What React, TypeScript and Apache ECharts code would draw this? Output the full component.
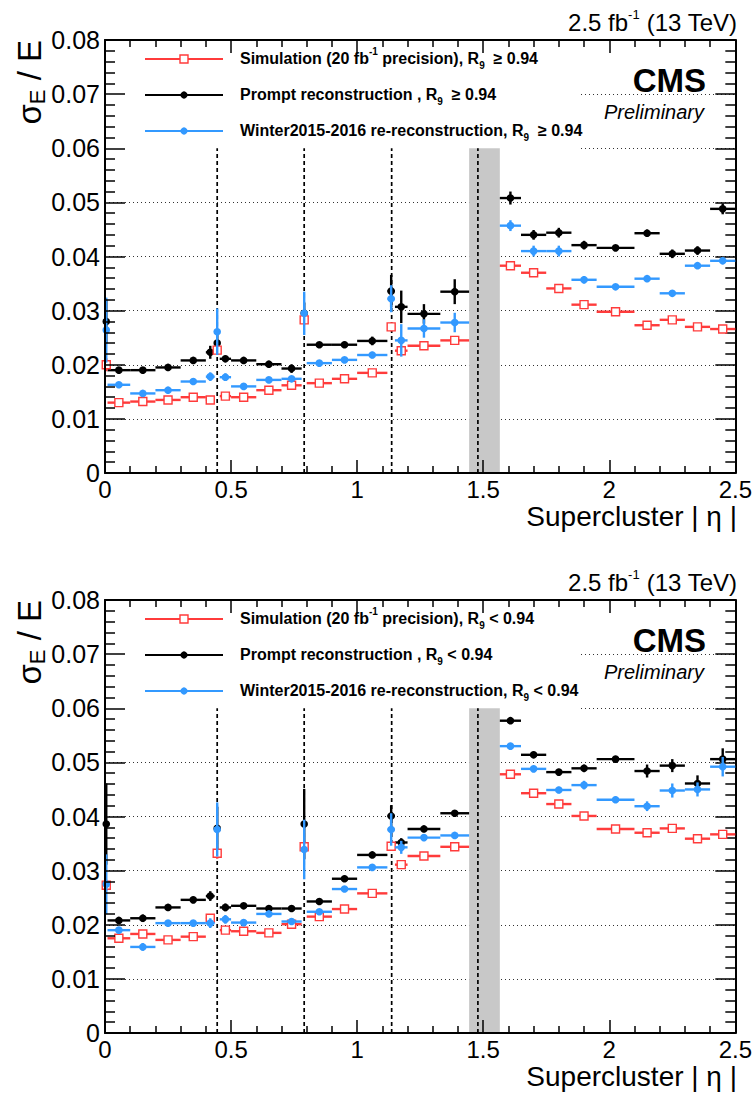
import React, { useEffect, useRef } from 'react';
import * as echarts from 'echarts';

// ---------------- data ----------------
// |eta| bins (barrel 0..1.4442, endcap 1.566..2.5)
const binLow = [0, 0.01, 0.1, 0.2, 0.3, 0.4, 0.435, 0.455, 0.5, 0.6, 0.7, 0.78, 0.8, 0.9, 1.0, 1.12, 1.15, 1.2, 1.33,
  1.566, 1.65, 1.75, 1.85, 1.95, 2.1, 2.2, 2.3, 2.4];
const binHigh = [0.01, 0.1, 0.2, 0.3, 0.4, 0.435, 0.455, 0.5, 0.6, 0.7, 0.78, 0.8, 0.9, 1.0, 1.12, 1.15, 1.2, 1.33, 1.4442,
  1.65, 1.75, 1.85, 1.95, 2.1, 2.2, 2.3, 2.4, 2.5];

// Top panel: R9 >= 0.94
const simHighR9 = [0.0200, 0.0130, 0.0132, 0.0135, 0.0140, 0.0135, 0.0227, 0.0142, 0.0140, 0.0153, 0.0162, 0.0283, 0.0166, 0.0174, 0.0185, 0.0270, 0.0226, 0.0235, 0.0245,
  0.0383, 0.0370, 0.0341, 0.0311, 0.0298, 0.0273, 0.0283, 0.0270, 0.0266];
const simHighR9Err = [0.0012, 0.0003, 0.0003, 0.0003, 0.0003, 0.0004, 0.0008, 0.0004, 0.0003, 0.0003, 0.0003, 0.0008, 0.0003, 0.0003, 0.0003, 0.0008, 0.0006, 0.0004, 0.0004,
  0.0004, 0.0003, 0.0003, 0.0003, 0.0003, 0.0003, 0.0003, 0.0003, 0.0003];
const promptHighR9 = [0.0280, 0.0190, 0.0190, 0.0195, 0.0208, 0.0223, 0.0240, 0.0211, 0.0208, 0.0201, 0.0193, 0.0295, 0.0237, 0.0237, 0.0244, 0.0336, 0.0307, 0.0294, 0.0335,
  0.0508, 0.0440, 0.0444, 0.0421, 0.0416, 0.0443, 0.0405, 0.0411, 0.0488];
const promptHighR9Err = [0.0040, 0.0004, 0.0004, 0.0005, 0.0005, 0.0012, 0.0015, 0.0006, 0.0005, 0.0005, 0.0008, 0.0020, 0.0005, 0.0006, 0.0008, 0.0030, 0.0030, 0.0018, 0.0023,
  0.0012, 0.0009, 0.0009, 0.0008, 0.0005, 0.0007, 0.0008, 0.0008, 0.0010];
const winterHighR9 = [0.0264, 0.0163, 0.0147, 0.0153, 0.0169, 0.0178, 0.0261, 0.0177, 0.0160, 0.0172, 0.0174, 0.0295, 0.0203, 0.0209, 0.0218, 0.0322, 0.0245, 0.0267, 0.0278,
  0.0457, 0.0410, 0.0410, 0.0357, 0.0344, 0.0359, 0.0332, 0.0383, 0.0392];
const winterHighR9Err = [0.0060, 0.0004, 0.0004, 0.0004, 0.0006, 0.0008, 0.0043, 0.0007, 0.0005, 0.0005, 0.0005, 0.0040, 0.0005, 0.0005, 0.0006, 0.0025, 0.0030, 0.0017, 0.0018,
  0.0010, 0.0010, 0.0010, 0.0007, 0.0004, 0.0006, 0.0005, 0.0006, 0.0006];

// Bottom panel: R9 < 0.94
const simLowR9 = [0.0273, 0.0175, 0.0183, 0.0172, 0.0178, 0.0212, 0.0332, 0.0190, 0.0188, 0.0185, 0.0201, 0.0344, 0.0215, 0.0229, 0.0258, 0.0345, 0.0311, 0.0327, 0.0344,
  0.0478, 0.0443, 0.0423, 0.0401, 0.0377, 0.0370, 0.0378, 0.0359, 0.0367];
const simLowR9Err = [0.0010, 0.0003, 0.0003, 0.0003, 0.0003, 0.0004, 0.0010, 0.0003, 0.0003, 0.0003, 0.0003, 0.0010, 0.0003, 0.0003, 0.0003, 0.0008, 0.0004, 0.0003, 0.0003,
  0.0003, 0.0003, 0.0003, 0.0003, 0.0003, 0.0003, 0.0003, 0.0005, 0.0005];
const promptLowR9 = [0.0386, 0.0208, 0.0212, 0.0232, 0.0246, 0.0253, 0.0378, 0.0232, 0.0235, 0.0230, 0.0230, 0.0386, 0.0243, 0.0285, 0.0329, 0.0401, 0.0352, 0.0377, 0.0406,
  0.0577, 0.0514, 0.0482, 0.0489, 0.0506, 0.0484, 0.0494, 0.0461, 0.0506];
const promptLowR9Err = [0.0075, 0.0006, 0.0007, 0.0006, 0.0006, 0.0009, 0.0040, 0.0007, 0.0005, 0.0004, 0.0005, 0.0065, 0.0004, 0.0006, 0.0005, 0.0020, 0.0008, 0.0004, 0.0004,
  0.0006, 0.0006, 0.0006, 0.0007, 0.0006, 0.0012, 0.0012, 0.0015, 0.0020];
const winterLowR9 = [0.0275, 0.0190, 0.0159, 0.0203, 0.0203, 0.0203, 0.0376, 0.0210, 0.0204, 0.0220, 0.0206, 0.0339, 0.0224, 0.0266, 0.0306, 0.0376, 0.0343, 0.0361, 0.0365,
  0.0530, 0.0488, 0.0449, 0.0458, 0.0431, 0.0419, 0.0448, 0.0450, 0.0492];
const winterLowR9Err = [0.0055, 0.0006, 0.0007, 0.0005, 0.0005, 0.0009, 0.0050, 0.0008, 0.0005, 0.0005, 0.0006, 0.0055, 0.0005, 0.0005, 0.0005, 0.0030, 0.0012, 0.0006, 0.0006,
  0.0006, 0.0006, 0.0006, 0.0008, 0.0006, 0.0009, 0.0013, 0.0013, 0.0018];

// Module boundaries / EB-EE gap
const crackEta = [0.445, 0.79, 1.137, 1.479];
const gapRange = [1.4442, 1.566];
const guideTop = 0.06;

const xTicks = [0, 0.5, 1, 1.5, 2, 2.5];
const yTickValues = [0, 0.01, 0.02, 0.03, 0.04, 0.05, 0.06, 0.07, 0.08];

const panelLabels = [
  { cut: '  \u2265 0.94' },
  { cut: ' < 0.94' },
];

// ---------------- style ----------------
const FONT = '"Liberation Sans", Arial, Helvetica, sans-serif';
const RED = '#ff3b3b';
const BLACK = '#000000';
const BLUE = '#3399ff';

const GRID_LEFT = 105;
const GRID_W = 631;
const GRID_H = 433;
const GRID_TOPS = [40, 600];

function errSeries(gridIdx: number, values: number[], errors: number[], color: string, marker: string) {
  const data = values.map((v, i) => [binLow[i], binHigh[i], v, errors[i]]);
  return {
    type: 'custom',
    xAxisIndex: gridIdx * 2,
    yAxisIndex: gridIdx * 2,
    z: 3,
    encode: { x: [0, 1], y: 2 },
    data,
    renderItem: (_p: any, api: any) => {
      const x0 = api.value(0);
      const x1 = api.value(1);
      const y = api.value(2);
      const e = api.value(3);
      const xc = (x0 + x1) / 2;
      const pl = api.coord([x0, y]);
      const pr = api.coord([x1, y]);
      const pc = api.coord([xc, y]);
      const pt = api.coord([xc, y + e]);
      const pb = api.coord([xc, y - e]);
      const children: any[] = [
        { type: 'line', shape: { x1: pl[0], y1: pl[1], x2: pr[0], y2: pr[1] }, style: { stroke: color, lineWidth: 2.4 } },
        { type: 'line', shape: { x1: pt[0], y1: pt[1], x2: pb[0], y2: pb[1] }, style: { stroke: color, lineWidth: 2.4 } },
      ];
      if (marker === 'square') {
        children.push({ type: 'rect', shape: { x: pc[0] - 4, y: pc[1] - 4, width: 8, height: 8 }, style: { fill: '#fff', stroke: color, lineWidth: 1.4 } });
      } else {
        children.push({ type: 'circle', shape: { cx: pc[0], cy: pc[1], r: 3.8 }, style: { fill: color } });
      }
      return { type: 'group', children };
    },
  };
}

function bandSeries(gridIdx: number) {
  return {
    type: 'custom',
    xAxisIndex: gridIdx * 2,
    yAxisIndex: gridIdx * 2,
    z: 2,
    data: [[gapRange[0], gapRange[1], guideTop]],
    renderItem: (_p: any, api: any) => {
      const a = api.coord([api.value(0), 0]);
      const b = api.coord([api.value(1), api.value(2)]);
      return { type: 'rect', shape: { x: a[0], y: b[1], width: b[0] - a[0], height: a[1] - b[1] }, style: { fill: '#c8c8c8' } };
    },
  };
}

function crackSeries(gridIdx: number) {
  return {
    type: 'custom',
    xAxisIndex: gridIdx * 2,
    yAxisIndex: gridIdx * 2,
    z: 2,
    data: crackEta.map((e) => [e, guideTop]),
    renderItem: (_p: any, api: any) => {
      const a = api.coord([api.value(0), 0]);
      const b = api.coord([api.value(0), api.value(1)]);
      return { type: 'line', shape: { x1: a[0], y1: a[1], x2: b[0], y2: b[1] }, style: { stroke: '#000', lineWidth: 1.7, lineDash: [4, 3] } };
    },
  };
}

function xAxes(gridIdx: number) {
  const base = {
    type: 'value', gridIndex: gridIdx, min: xTicks[0], max: xTicks[xTicks.length - 1], interval: 0.5,
    splitLine: { show: false }, z: 5,
    axisLine: { show: true, onZero: false, lineStyle: { color: '#000', width: 2 } },
    axisTick: { show: true, inside: true, length: 13, lineStyle: { color: '#000', width: 1.5 } },
    minorTick: { show: true, splitNumber: 5, length: 7, lineStyle: { color: '#000', width: 1.5 } },
  };
  return [
    {
      ...base, position: 'bottom',
      axisLabel: { show: true, margin: 4, fontSize: 24, lineHeight: 24, fontFamily: FONT, color: '#000', formatter: (v: number) => String(v) },
    },
    { ...base, position: 'top', axisLabel: { show: false } },
  ];
}

function yAxes(gridIdx: number) {
  const base = {
    type: 'value', gridIndex: gridIdx, min: yTickValues[0], max: yTickValues[yTickValues.length - 1], interval: 0.01,
    axisLine: { show: true, onZero: false, lineStyle: { color: '#000', width: 2 } },
    axisTick: { show: true, inside: true, length: 20, lineStyle: { color: '#000', width: 1.5 } },
    minorTick: { show: true, splitNumber: 5, length: 10, lineStyle: { color: '#000', width: 1.5 } },
  };
  return [
    {
      ...base, position: 'left', z: 5, splitLine: { show: false },
      axisLabel: {
        show: true, margin: 5, fontSize: 25, fontFamily: FONT, color: '#000',
        formatter: (v: number) => (Math.abs(v) < 1e-9 ? '0' : v.toFixed(2)),
      },
    },
    {
      ...base, position: 'right', z: 0, axisLabel: { show: false },
      splitLine: { show: true, lineStyle: { color: '#333', width: 1, type: [1, 3] } },
    },
  ];
}

function panelGraphics(gridIdx: number) {
  const top = GRID_TOPS[gridIdx];
  const cut = panelLabels[gridIdx].cut;
  const legendRows = [
    { color: RED, marker: 'square', text: `{m|Simulation (20 fb}{sup|-1}{m| precision), R}{sub|9}{m|${cut}}` },
    { color: BLACK, marker: 'dot', text: `{m|Prompt reconstruction , R}{sub|9}{m|${cut}}` },
    { color: BLUE, marker: 'dot', text: `{m|Winter2015-2016 re-reconstruction, R}{sub|9}{m|${cut}}` },
  ];
  const rich = {
    m: { fontSize: 16, fontWeight: 'bold', fontFamily: FONT, lineHeight: 24, fill: '#000' },
    sup: { fontSize: 10, fontWeight: 'bold', fontFamily: FONT, lineHeight: 12, verticalAlign: 'top', fill: '#000' },
    sub: { fontSize: 10, fontWeight: 'bold', fontFamily: FONT, lineHeight: 6, verticalAlign: 'bottom', fill: '#000' },
  };
  const els: any[] = [];
  // white legend box hides grid lines
  els.push({ type: 'rect', z: 1, shape: { x: GRID_LEFT + 1, y: top + 1, width: 474, height: 110 }, style: { fill: '#fff' } });
  legendRows.forEach((r, i) => {
    const y = top + 19 + i * 36;
    els.push({ type: 'line', z: 10, shape: { x1: 145, y1: y, x2: 223, y2: y }, style: { stroke: r.color, lineWidth: 2.2 } });
    if (r.marker === 'square') {
      els.push({ type: 'rect', z: 10, shape: { x: 180, y: y - 4, width: 8, height: 8 }, style: { fill: '#fff', stroke: r.color, lineWidth: 1.4 } });
    } else {
      els.push({ type: 'circle', z: 10, shape: { cx: 184, cy: y, r: 3.6 }, style: { fill: r.color } });
    }
    els.push({
      type: 'text', z: 10, x: 240, y: y - 1,
      style: { text: r.text, rich, fill: '#000', align: 'left', verticalAlign: 'middle', font: `bold 16px ${FONT}` },
    });
  });
  // luminosity label
  els.push({
    type: 'text', z: 10, x: 737, y: top - 18,
    style: {
      text: '{m|2.5 fb}{sup|-1}{m| (13 TeV)}', align: 'right', verticalAlign: 'middle', fill: '#000',
      rich: {
        m: { fontSize: 24, fontFamily: FONT, lineHeight: 28, fill: '#000' },
        sup: { fontSize: 13, fontFamily: FONT, lineHeight: 14, verticalAlign: 'top', fill: '#000' },
      },
    },
  });
  els.push({ type: 'text', z: 10, x: 706, y: top + 40, style: { text: 'CMS', align: 'right', verticalAlign: 'middle', fill: '#000', font: `bold 33px ${FONT}` } });
  els.push({ type: 'text', z: 10, x: 704, y: top + 72, style: { text: 'Preliminary', align: 'right', verticalAlign: 'middle', fill: '#000', font: `italic 20px ${FONT}` } });
  // y title (rotated)
  els.push({
    type: 'text', z: 10, x: 29, y: top, rotation: Math.PI / 2,
    style: {
      text: '{m|\u03c3}{sub|E}{m| / E}', align: 'right', verticalAlign: 'middle', fill: '#000',
      rich: {
        m: { fontSize: 33, fontFamily: FONT, lineHeight: 38, fill: '#000' },
        sub: { fontSize: 22, fontFamily: FONT, lineHeight: 8, verticalAlign: 'bottom', fill: '#000' },
      },
    },
  });
  // x title
  els.push({
    type: 'text', z: 10, x: 737, y: top + GRID_H + 29,
    style: { text: 'Supercluster | \u03b7 |', align: 'right', verticalAlign: 'top', fill: '#000', font: `28px ${FONT}` },
  });
  return els;
}

export default function App() {
  const ref = useRef<HTMLDivElement>(null);
  useEffect(() => {
    if (!ref.current) return;
    const chart = echarts.init(ref.current, undefined, { renderer: 'svg' });
    const option: any = {
      animation: false,
      backgroundColor: '#fff',
      grid: GRID_TOPS.map((t) => ({ left: GRID_LEFT, top: t, width: GRID_W, height: GRID_H, containLabel: false })),
      xAxis: [...xAxes(0), ...xAxes(1)],
      yAxis: [...yAxes(0), ...yAxes(1)],
      series: [
        bandSeries(0), crackSeries(0),
        errSeries(0, promptHighR9, promptHighR9Err, BLACK, 'dot'),
        errSeries(0, simHighR9, simHighR9Err, RED, 'square'),
        errSeries(0, winterHighR9, winterHighR9Err, BLUE, 'dot'),
        bandSeries(1), crackSeries(1),
        errSeries(1, promptLowR9, promptLowR9Err, BLACK, 'dot'),
        errSeries(1, simLowR9, simLowR9Err, RED, 'square'),
        errSeries(1, winterLowR9, winterLowR9Err, BLUE, 'dot'),
      ],
      graphic: { elements: [...panelGraphics(0), ...panelGraphics(1)] },
    };
    chart.setOption(option);
    return () => chart.dispose();
  }, []);
  return <div ref={ref} style={{ position: 'fixed', left: 0, top: 0, width: 755, height: 1095, background: '#fff' }} />;
}
